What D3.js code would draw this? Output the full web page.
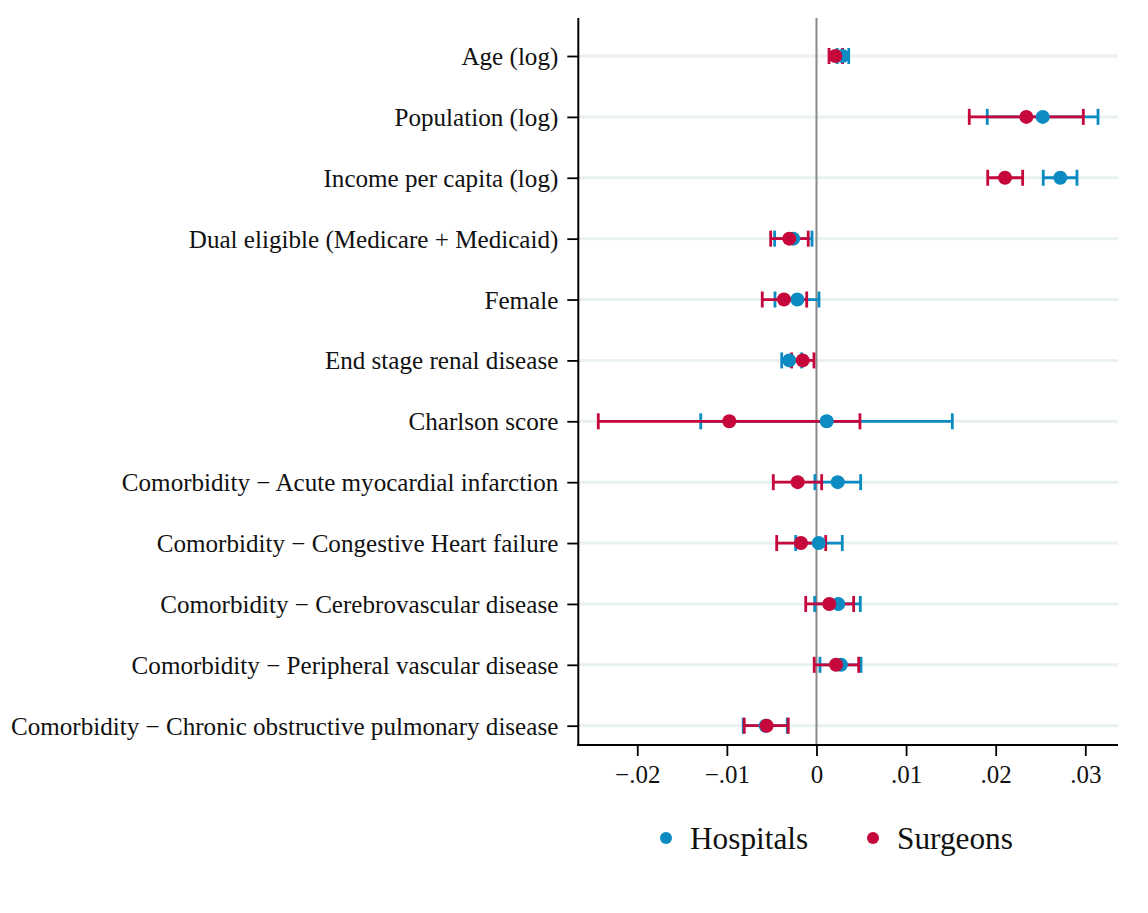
<!DOCTYPE html>
<html>
<head>
<meta charset="utf-8">
<script src="https://cdn.jsdelivr.net/npm/d3@7"></script>
<style>
  html, body { margin: 0; padding: 0; background: #fff; }
  svg { display: block; }
  text { font-family: "Liberation Serif", "Times New Roman", serif; fill: #111; }
</style>
</head>
<body>
<svg id="chart" width="1148" height="913"></svg>
<script>
const categories = [
  "Age (log)",
  "Population (log)",
  "Income per capita (log)",
  "Dual eligible (Medicare + Medicaid)",
  "Female",
  "End stage renal disease",
  "Charlson score",
  "Comorbidity \u2212 Acute myocardial infarction",
  "Comorbidity \u2212 Congestive Heart failure",
  "Comorbidity \u2212 Cerebrovascular disease",
  "Comorbidity \u2212 Peripheral vascular disease",
  "Comorbidity \u2212 Chronic obstructive pulmonary disease"
];

const hospEst = [0.0029, 0.02525, 0.02721, -0.00259, -0.00214, -0.00304, 0.00114, 0.00237, 0.00025, 0.00243, 0.00273, -0.00567];
const hospLo  = [0.0023, 0.01906, 0.02531, -0.00467, -0.00463, -0.00388, -0.01292, -0.00017, -0.00232, -0.00020, 0.00039, -0.00817];
const hospHi  = [0.0036, 0.03142, 0.02907, -0.00050, 0.00028, -0.00165, 0.01516, 0.00493, 0.00288, 0.00489, 0.00497, -0.00326];

const surgEst = [0.0021, 0.02342, 0.02104, -0.00304, -0.00363, -0.00154, -0.00973, -0.00210, -0.00173, 0.00143, 0.00218, -0.00556];
const surgLo  = [0.0014, 0.01705, 0.01911, -0.00511, -0.00605, -0.00277, -0.02435, -0.00482, -0.00444, -0.00120, -0.00025, -0.00806];
const surgHi  = [0.0029, 0.02978, 0.02301, -0.00092, -0.00109, -0.00028, 0.00485, 0.00058, 0.00103, 0.00415, 0.00471, -0.00315];

const xTicks = [-0.02, -0.01, 0, 0.01, 0.02, 0.03];
const xTickLabels = ["\u2212.02", "\u2212.01", "0", ".01", ".02", ".03"];

const seriesNames = ["Hospitals", "Surgeons"];
const seriesColors = ["#0b8bc1", "#c6073b"];

const svg = d3.select("#chart");

const plotLeft = 578.3, plotRight = 1118, plotTop = 18, plotBottom = 745;

const x = d3.scaleLinear().domain([-0.02658, 0.03365]).range([plotLeft, plotRight]);
const y = d3.scalePoint().domain(categories).range([56, 725.7]);

// gridlines
svg.append("g").selectAll("line").data(categories).join("line")
  .attr("x1", plotLeft).attr("x2", plotRight)
  .attr("y1", d => y(d)).attr("y2", d => y(d))
  .attr("stroke", "#e9f1f3").attr("stroke-width", 3);

// zero line
svg.append("line")
  .attr("x1", x(0)).attr("x2", x(0))
  .attr("y1", plotTop).attr("y2", plotBottom)
  .attr("stroke", "#8a8a8a").attr("stroke-width", 2);

// axes
const xAxis = d3.axisBottom(x).tickValues(xTicks)
  .tickFormat((d, i) => xTickLabels[i]).tickSize(11).tickPadding(8);
const gx = svg.append("g").attr("transform", `translate(0,${plotBottom})`).call(xAxis);
gx.select(".domain").remove();
gx.selectAll(".tick line").attr("stroke", "#000").attr("stroke-width", 1.8);
gx.selectAll(".tick text").attr("y", 37.5).attr("dy", "0")
  .style("font-size", "25px").style("font-family", "'Liberation Serif', serif").attr("fill", "#111");

const yAxis = d3.axisLeft(y).tickSize(11).tickPadding(9);
const gy = svg.append("g").attr("transform", `translate(${plotLeft},0)`).call(yAxis);
gy.select(".domain").remove();
gy.selectAll(".tick line").attr("stroke", "#000").attr("stroke-width", 1.8);
gy.selectAll(".tick text").attr("dy", "0.34em")
  .style("font-size", "25.1px").style("font-family", "'Liberation Serif', serif").attr("fill", "#111");

svg.append("line").attr("x1", plotLeft).attr("x2", plotLeft)
  .attr("y1", plotTop).attr("y2", plotBottom + 1)
  .attr("stroke", "#000").attr("stroke-width", 2);
svg.append("line").attr("x1", plotLeft - 1).attr("x2", plotRight)
  .attr("y1", plotBottom).attr("y2", plotBottom)
  .attr("stroke", "#000").attr("stroke-width", 2);

// series data
const series = [
  categories.map((c, i) => ({c, est: hospEst[i], lo: hospLo[i], hi: hospHi[i]})),
  categories.map((c, i) => ({c, est: surgEst[i], lo: surgLo[i], hi: surgHi[i]}))
];

const capH = 8;
// CI lines first (hospitals then surgeons)
series.forEach((s, k) => {
  const g = svg.append("g").attr("stroke", seriesColors[k]).attr("stroke-width", 2.8);
  g.selectAll("line.ci").data(s).join("line").attr("class", "ci")
    .attr("x1", d => x(d.lo)).attr("x2", d => x(d.hi))
    .attr("y1", d => y(d.c)).attr("y2", d => y(d.c));
  g.selectAll("line.capl").data(s).join("line").attr("class", "capl")
    .attr("x1", d => x(d.lo)).attr("x2", d => x(d.lo))
    .attr("y1", d => y(d.c) - capH).attr("y2", d => y(d.c) + capH);
  g.selectAll("line.caph").data(s).join("line").attr("class", "caph")
    .attr("x1", d => x(d.hi)).attr("x2", d => x(d.hi))
    .attr("y1", d => y(d.c) - capH).attr("y2", d => y(d.c) + capH);
});
// points
series.forEach((s, k) => {
  svg.append("g").selectAll("circle").data(s).join("circle")
    .attr("cx", d => x(d.est)).attr("cy", d => y(d.c)).attr("r", 7)
    .attr("fill", seriesColors[k]);
});

// legend
const legendX = [666, 873];
const legend = svg.append("g");
seriesNames.forEach((n, k) => {
  legend.append("circle").attr("cx", legendX[k]).attr("cy", 838).attr("r", 6)
    .attr("fill", seriesColors[k]);
  legend.append("text").attr("x", legendX[k] + 24).attr("y", 849)
    .style("font-size", "31.3px").text(n);
});
</script>
</body>
</html>
